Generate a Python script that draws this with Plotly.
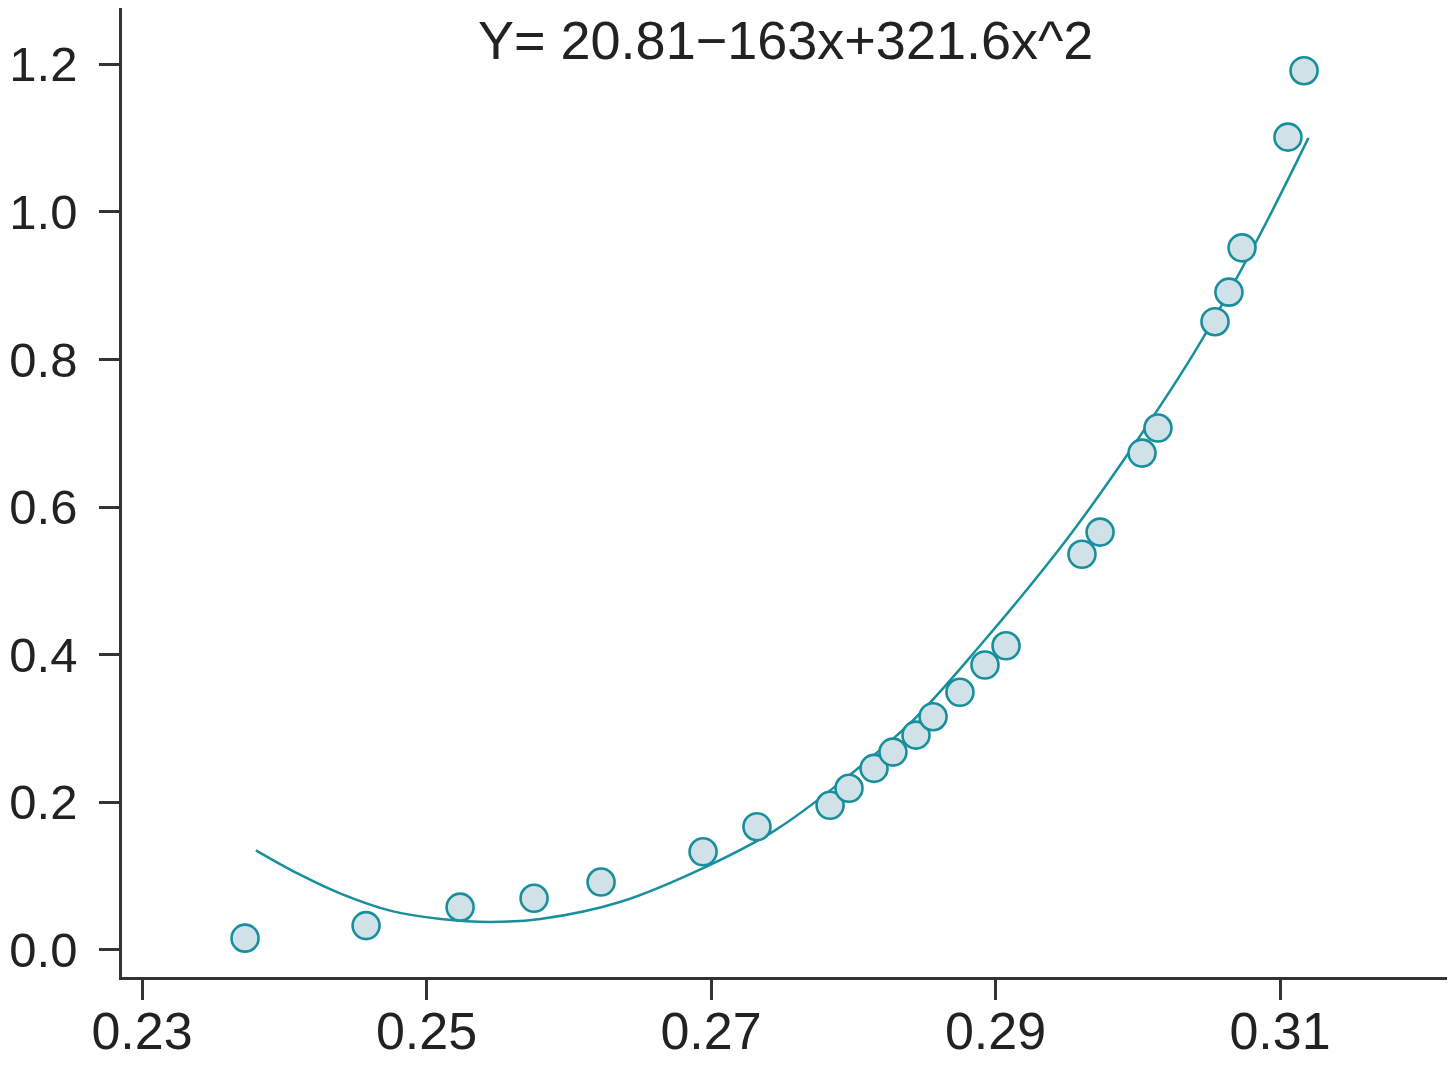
import plotly.graph_objects as go

# Data points
x_vals = [0.23724, 0.24575, 0.25236, 0.25756, 0.26227, 0.26944, 0.27323,
          0.27837, 0.27970, 0.28146, 0.28279, 0.28441, 0.28561, 0.28750,
          0.28926, 0.29074, 0.29608, 0.29735, 0.30030, 0.30142, 0.30543,
          0.30641, 0.30733, 0.31056, 0.31169]
y_vals = [0.016, 0.033, 0.058, 0.070, 0.092, 0.133, 0.167,
          0.196, 0.219, 0.246, 0.268, 0.291, 0.316, 0.349,
          0.386, 0.412, 0.536, 0.566, 0.673, 0.707, 0.851,
          0.891, 0.951, 1.101, 1.191]

# Fitted curve as drawn in the reference
curve_x = [0.2380, 0.2410, 0.2440, 0.2475, 0.2510, 0.2545, 0.2580, 0.2636,
           0.2699, 0.2745, 0.2791, 0.2842, 0.2889, 0.2950, 0.2997, 0.3040,
           0.3084, 0.3120]
curve_y = [0.135, 0.103, 0.076, 0.053, 0.042, 0.038, 0.042, 0.065,
           0.115, 0.162, 0.227, 0.311, 0.412, 0.556, 0.683, 0.810,
           0.962, 1.100]

x_ticks = [0.23, 0.25, 0.27, 0.29, 0.31]
x_tick_labels = ["0.23", "0.25", "0.27", "0.29", "0.31"]
y_ticks = [0.0, 0.2, 0.4, 0.6, 0.8, 1.0, 1.2]
y_tick_labels = ["0.0", "0.2", "0.4", "0.6", "0.8", "1.0", "1.2"]

title_text = "Y= 20.81\u2212163x+321.6x^2"

teal = "#178f9c"
font = "Liberation Sans, Arial, sans-serif"

fig = go.Figure()
fig.add_trace(go.Scatter(x=curve_x, y=curve_y, mode="lines",
                         line=dict(color=teal, width=2.5, shape="spline", smoothing=1.0),
                         hoverinfo="skip", showlegend=False))
fig.add_trace(go.Scatter(x=x_vals, y=y_vals, mode="markers",
                         marker=dict(size=27, color="#d0e2e8",
                                     line=dict(color=teal, width=2.6)),
                         showlegend=False))

axis_common = dict(showgrid=False, zeroline=False, showline=True, linecolor="#333333",
                   linewidth=2.5, ticks="outside", ticklen=20, tickwidth=2.5,
                   tickcolor="#333333", automargin=False)

fig.update_layout(
    width=1447, height=1057,
    margin=dict(l=114, r=8, t=0, b=88),
    paper_bgcolor="white", plot_bgcolor="white",
    font=dict(family=font, color="#222222"),
    xaxis=dict(range=[0.22859, 0.32174], tickvals=x_ticks, ticktext=x_tick_labels,
               tickfont=dict(size=52, family=font, color="#222222"),
               ticklabelstandoff=-13, **axis_common),
    yaxis=dict(range=[-0.0366, 1.2759], tickvals=y_ticks, ticktext=y_tick_labels,
               tickfont=dict(size=49, family=font, color="#222222"),
               ticklabelstandoff=12, **axis_common),
    annotations=[dict(text=title_text, x=0.27527, xref="x", y=1, yref="paper",
                      yanchor="top", xanchor="center", yshift=0, showarrow=False,
                      font=dict(size=54, family=font, color="#222222"))],
)

fig.write_html("out.html")
